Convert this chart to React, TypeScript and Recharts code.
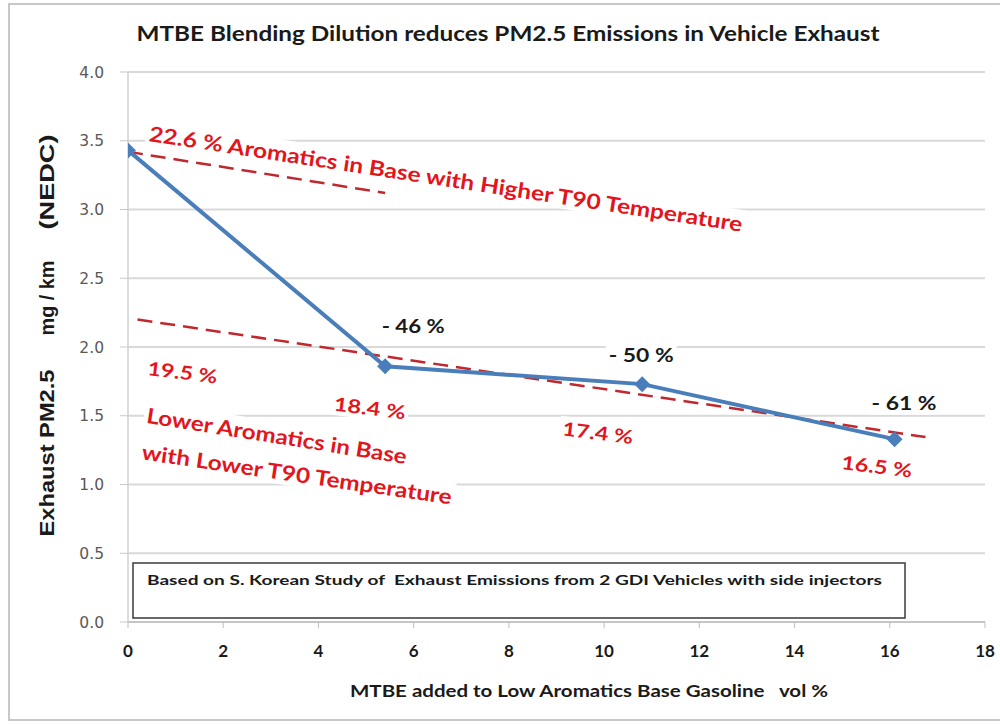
import React from "react";
import {
  LineChart,
  Line,
  XAxis,
  YAxis,
  CartesianGrid,
  ReferenceDot,
  ReferenceArea,
} from "recharts";

// ---- data ----
const mtbeVol = [0, 5.4, 10.8, 16.1];
const pm25 = [3.43, 1.86, 1.73, 1.33];

const upperTrendX = [0, 5.4];
const upperTrendY = [3.42, 3.12];

const lowerTrendX = [0.2, 16.75];
const lowerTrendY = [2.2, 1.345];

const xTicks = [0, 2, 4, 6, 8, 10, 12, 14, 16, 18];
const yTicks = [0, 0.5, 1, 1.5, 2, 2.5, 3, 3.5, 4];

const annotationTexts = [
  "22.6 % Aromatics in Base with Higher T90 Temperature",
  "19.5 %",
  "18.4 %",
  "17.4 %",
  "16.5 %",
  "Lower Aromatics in Base",
  "with Lower T90 Temperature",
  "- 46 %",
  "- 50 %",
  "- 61 %",
];
const annotationX = [6.68, 1.15, 5.08, 9.87, 15.73, 3.13, 3.55, 5.99, 10.78, 16.3];
const annotationY = [3.23, 1.82, 1.56, 1.38, 1.135, 1.36, 1.08, 2.153, 1.942, 1.593];

const noteText =
  "Based on S. Korean Study of  Exhaust Emissions from 2 GDI Vehicles with side injectors";
const noteBoxX = [0.105, 16.32];
const noteBoxY = [0.03, 0.43];

// ---- styles (not data) ----
const RED = "#e3151c";
const annotationStyle = [
  { angle: 8.7, len: 600, size: 21, color: RED },
  { angle: 7, len: 70, size: 19, color: RED },
  { angle: 7, len: 72, size: 19, color: RED },
  { angle: 7, len: 71, size: 19, color: RED },
  { angle: 7, len: 71, size: 19, color: RED },
  { angle: 9, len: 263, size: 21, color: RED },
  { angle: 8.3, len: 313, size: 21, color: RED },
  { angle: 0, len: 63, size: 19, color: "#1a1a1a" },
  { angle: 0, len: 65, size: 19, color: "#1a1a1a" },
  { angle: 0, len: 65, size: 19, color: "#1a1a1a" },
];

const mainData = mtbeVol.map((x, i) => ({ x, y: pm25[i] }));
const upperData = upperTrendX.map((x, i) => ({ x, y: upperTrendY[i] }));
const lowerData = lowerTrendX.map((x, i) => ({ x, y: lowerTrendY[i] }));

const FONT = "Lato, 'Open Sans', sans-serif";

const Diamond = (p: any) => {
  const { cx, cy, index } = p;
  if (cx == null || cy == null) return <g key={index} />;
  const r = 8;
  return (
    <polygon
      key={index}
      points={`${cx},${cy - r} ${cx + r},${cy} ${cx},${cy + r} ${cx - r},${cy}`}
      fill="#4a7ebb"
    />
  );
};

const makeAnnot = (i: number) => (props: any) => {
  const vb = props.viewBox || {};
  const cx = (vb.x ?? 0) + (vb.width ?? 0) / 2;
  const cy = (vb.y ?? 0) + (vb.height ?? 0) / 2;
  const s = annotationStyle[i];
  return (
    <g transform={`rotate(${s.angle} ${cx} ${cy})`}>
      <rect
        x={cx - s.len / 2 - 3}
        y={cy - s.size * 0.62}
        width={s.len + 6}
        height={s.size * 1.24}
        fill="#ffffff"
      />
      <text
        x={cx}
        y={cy}
        textAnchor="middle"
        dominantBaseline="central"
        textLength={s.len}
        lengthAdjust="spacingAndGlyphs"
        fill={s.color}
        fontFamily={FONT}
        fontWeight={700}
        fontSize={s.size}
        style={{ whiteSpace: "pre" }}
      >
        {annotationTexts[i]}
      </text>
    </g>
  );
};

const noteLabel = (props: any) => {
  const vb = props.viewBox || {};
  return (
    <text
      x={vb.x + 14}
      y={vb.y + 17}
      dominantBaseline="central"
      textLength={735}
      lengthAdjust="spacingAndGlyphs"
      fill="#1a1a1a"
      fontFamily={FONT}
      fontWeight={700}
      fontSize={14}
      style={{ whiteSpace: "pre" }}
    >
      {noteText}
    </text>
  );
};

export default function App() {
  return (
    <div
      style={{
        position: "absolute",
        left: 0,
        top: 0,
        width: 1000,
        height: 725,
        background: "#ffffff",
      }}
    >
      <LineChart
        width={1000}
        height={725}
        data={mainData}
        margin={{ top: 72, right: 15, bottom: 73, left: 60 }}
      >
        <CartesianGrid
          vertical={false}
          stroke="#d9d9d9"
          strokeWidth={1.8}
        />
        <XAxis
          dataKey="x"
          type="number"
          domain={[0, 18]}
          ticks={xTicks}
          height={30}
          axisLine={{ stroke: "#bfbfbf", strokeWidth: 1.5 }}
          tickLine={{ stroke: "#bfbfbf" }}
          tickSize={6}
          tickMargin={17}
          tick={{
            fill: "#1a1a1a",
            fontFamily: FONT,
            fontWeight: 700,
            fontSize: 17,
          }}
          allowDataOverflow
        />
        <YAxis
          type="number"
          domain={[0, 4]}
          ticks={yTicks}
          width={68}
          axisLine={{ stroke: "#d0d0d0", strokeWidth: 1.5 }}
          tickLine={{ stroke: "#c8c8c8" }}
          tickSize={8}
          tickMargin={16}
          tickFormatter={(v: number) => v.toFixed(1)}
          tick={{
            fill: "#595959",
            fontFamily: "'DejaVu Sans', Verdana, sans-serif",
            fontSize: 15.5,
          }}
          allowDataOverflow
        />
        <ReferenceArea
          x1={noteBoxX[0]}
          x2={noteBoxX[1]}
          y1={noteBoxY[0]}
          y2={noteBoxY[1]}
          fill="#ffffff"
          fillOpacity={1}
          stroke="#3a3a3a"
          strokeWidth={1.5}
          ifOverflow="visible"
          label={noteLabel}
        />
        {annotationTexts.map((t, i) => (
          <ReferenceDot
            key={t}
            x={annotationX[i]}
            y={annotationY[i]}
            r={0}
            fill="none"
            stroke="none"
            ifOverflow="visible"
            label={makeAnnot(i)}
          />
        ))}
        <Line
          data={upperData}
          dataKey="y"
          stroke="#c0282e"
          strokeWidth={2.5}
          strokeDasharray="15 8"
          dot={false}
          isAnimationActive={false}
        />
        <Line
          data={lowerData}
          dataKey="y"
          stroke="#c0282e"
          strokeWidth={2.5}
          strokeDasharray="15 8"
          dot={false}
          isAnimationActive={false}
        />
        <Line
          dataKey="y"
          stroke="#4a7ebb"
          strokeWidth={4}
          dot={Diamond}
          activeDot={false}
          isAnimationActive={false}
        />
      </LineChart>
      <svg
        width={1000}
        height={725}
        style={{ position: "absolute", left: 0, top: 0, pointerEvents: "none" }}
      >
        <rect
          x={9}
          y={4}
          width={1000}
          height={716}
          fill="none"
          stroke="#c8c8c8"
          strokeWidth={2}
        />
        <text
          x={508}
          y={33}
          textAnchor="middle"
          dominantBaseline="central"
          textLength={743}
          lengthAdjust="spacingAndGlyphs"
          fontFamily={FONT}
          fontWeight={700}
          fontSize={20}
          fill="#1a1a1a"
        >
          MTBE Blending Dilution reduces PM2.5 Emissions in Vehicle Exhaust
        </text>
        {[
          { t: "Exhaust PM2.5", c: 453, l: 167 },
          { t: "mg / km", c: 298, l: 75 },
          { t: "(NEDC)", c: 182, l: 95 },
        ].map((o) => (
          <text
            key={o.t}
            x={47}
            y={o.c}
            transform={`rotate(-90 47 ${o.c})`}
            textAnchor="middle"
            dominantBaseline="central"
            textLength={o.l}
            lengthAdjust="spacingAndGlyphs"
            fontFamily="'Liberation Sans', Arial, sans-serif"
            fontWeight={700}
            fontSize={20}
            fill="#1a1a1a"
          >
            {o.t}
          </text>
        ))}
        <text
          x={589}
          y={690}
          textAnchor="middle"
          dominantBaseline="central"
          textLength={478}
          lengthAdjust="spacingAndGlyphs"
          fontFamily={FONT}
          fontWeight={700}
          fontSize={17}
          fill="#1a1a1a"
          style={{ whiteSpace: "pre" }}
        >
          MTBE added to Low Aromatics Base Gasoline   vol %
        </text>
      </svg>
    </div>
  );
}
